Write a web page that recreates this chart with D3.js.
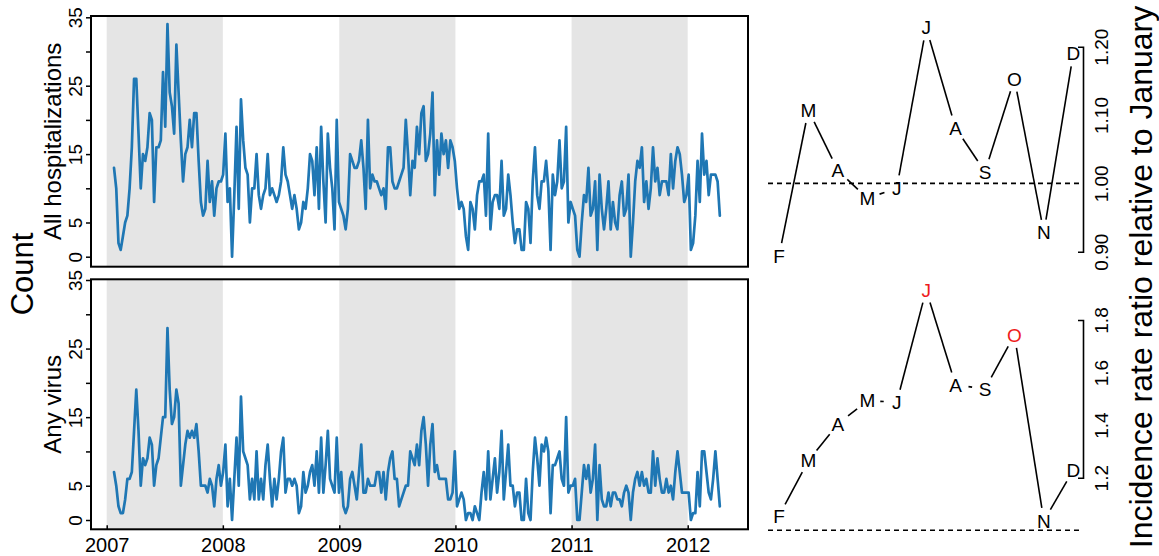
<!DOCTYPE html>
<html><head><meta charset="utf-8">
<script src="https://cdn.jsdelivr.net/npm/d3@7"></script>
<style>
html,body{margin:0;padding:0;background:#fff;}
svg{display:block;font-family:"Liberation Sans",Arial,Helvetica,sans-serif;}
</style></head>
<body><svg id="c" width="1159" height="556"></svg>
<script>
// ---------- DATA ----------
const startDate = "2007-01-24";           // first weekly observation
const yearTicks = [2007, 2008, 2009, 2010, 2011, 2012];
const shadedYears = [2007, 2009, 2011];   // grey bands (one year each)
const countTicks = [0, 5, 10, 15, 20, 25, 30, 35];
const countLabels = [0, 5, 15, 25, 35];

const allHosp = [
13,10,2,1,3,5,6,10,16,26,
26,18,10,15,14,16,21,20,8,16,
16,17,27,19,34,24,22,18,31,24,
17,11,15,16,20,16,21,21,14,8,
6,7,14,8,11,6,10,11,11,12,
18,8,10,0,9,19,7,23,17,13,
12,5,10,10,15,9,7,9,10,15,
9,10,9,8,9,11,16,12,11,9,
7,9,7,4,5,8,7,10,15,14,
9,16,7,19,11,5,18,13,10,4,
20,8,7,6,4,7,15,14,13,13,
14,17,13,7,20,10,12,11,11,10,
9,10,7,16,16,11,10,10,11,12,
13,20,15,9,14,13,19,15,21,22,
14,15,18,24,9,17,12,18,15,17,
13,17,16,14,10,7,8,7,3,1,
8,7,4,9,11,11,12,6,18,4,
8,9,9,7,14,6,7,12,9,5,
2,4,4,1,1,8,7,2,11,16,
9,7,11,11,14,10,1,12,9,11,
17,10,11,19,5,8,7,6,1,0,
5,9,8,13,6,7,11,1,12,7,
4,7,11,4,8,5,4,9,11,6,
7,12,0,5,11,14,13,16,8,11,
7,10,16,11,13,9,11,11,11,9,
15,10,14,16,15,12,8,9,12,1,
2,6,14,8,18,12,14,9,12,12,
12,11,6];

const anyVirus = [
7,5,2,1,1,3,6,6,7,13,
19,13,5,9,8,9,12,11,5,8,
9,12,15,15,28,19,14,15,19,17,
5,8,11,13,12,13,12,14,10,5,
5,5,4,6,5,2,6,8,5,7,
11,2,6,0,6,12,5,18,10,9,
8,3,6,3,10,3,6,3,8,11,
6,2,6,3,6,10,12,4,6,6,
5,6,5,1,2,7,4,5,7,8,
5,10,4,12,4,8,13,6,5,4,
12,4,7,2,1,2,6,7,5,3,
7,11,4,4,6,5,5,5,7,7,
4,7,3,7,9,10,6,6,2,3,
4,5,5,10,9,8,11,8,13,15,
11,5,11,14,7,8,6,6,6,6,
3,3,4,10,2,3,4,3,0,1,
1,0,2,1,0,4,7,3,10,3,
6,9,4,7,13,3,7,11,5,5,
2,4,4,0,0,6,1,0,7,12,
9,5,11,10,12,10,1,8,8,9,
10,6,5,15,4,5,5,6,0,0,
4,8,6,8,4,6,11,0,8,3,
2,2,4,2,4,4,3,3,2,4,
5,4,0,4,6,7,5,7,5,6,
4,4,10,5,9,6,4,4,6,4,
5,3,7,10,7,4,4,4,4,0,
1,1,7,2,10,10,7,4,3,6,
10,6,2];

const months = ["F","M","A","M","J","J","A","S","O","N","D"];
const irrAll   = [0.894,1.107,1.019,0.978,0.993,1.228,1.081,1.017,1.153,0.928,1.190];
const irrVirus = [1.055,1.265,1.404,1.493,1.487,1.914,1.553,1.538,1.743,1.036,1.229];
const virusHighlight = ["F","F","F","F","F","T","F","F","T","F","F"]; // significant months (red)
const irrAllTicks = [0.90, 1.00, 1.10, 1.20];
const irrVirusTicks = [1.2, 1.4, 1.6, 1.8];

// ---------- DRAW ----------
const svg = d3.select("#c");
const FONT = '"Liberation Sans",Arial,Helvetica,sans-serif';
const blue = "#1f77b4";

const parse = d3.timeParse("%Y-%m-%d");
const t0 = parse(startDate);
const dates = allHosp.map((_, i) => d3.timeDay.offset(t0, 7 * i));

const x = d3.scaleTime()
  .domain([new Date(2007, 0, 1), new Date(2012, 0, 1)])
  .range([106.7, 687.7]);
const frameX0 = 91, frameX1 = 748;

const panels = [
  {top: 16, bottom: 266.7, y: d3.scaleLinear().domain([0, 35]).range([256.7, 17.3]), data: allHosp, title: "All hospitalizations", xaxis: false},
  {top: 279.3, bottom: 529.3, y: d3.scaleLinear().domain([0, 35]).range([520, 280]), data: anyVirus, title: "Any virus", xaxis: true}
];

panels.forEach(p => {
  const g = svg.append("g");
  g.selectAll("rect.band").data(shadedYears).join("rect")
    .attr("x", d => x(new Date(d, 0, 1)))
    .attr("width", d => x(new Date(d + 1, 0, 1)) - x(new Date(d, 0, 1)))
    .attr("y", p.top).attr("height", p.bottom - p.top)
    .attr("fill", "#e5e5e5");
  const line = d3.line().x((d, i) => x(dates[i])).y(d => p.y(d));
  g.append("path").datum(p.data)
    .attr("d", line).attr("fill", "none")
    .attr("stroke", blue).attr("stroke-width", 2.7)
    .attr("stroke-linejoin", "round").attr("stroke-linecap", "round");
  g.append("rect").attr("x", frameX0).attr("y", p.top)
    .attr("width", frameX1 - frameX0).attr("height", p.bottom - p.top)
    .attr("fill", "none").attr("stroke", "#000").attr("stroke-width", 2);
  const ya = g.append("g").attr("transform", `translate(${frameX0},0)`)
    .call(d3.axisLeft(p.y).tickValues(countTicks).tickSizeInner(5).tickSizeOuter(0)
      .tickFormat(d => countLabels.includes(d) ? d : ""));
  ya.select(".domain").remove();
  ya.selectAll(".tick line").attr("stroke", "#000").attr("stroke-width", 1.5);
  ya.selectAll(".tick text")
    .attr("x", null).attr("dy", null).attr("y", null)
    .attr("text-anchor", "middle")
    .attr("transform", "translate(-8.7,0) rotate(-90)")
    .attr("font-size", 19).attr("font-family", FONT).attr("fill", "#000");
  g.append("text")
    .attr("transform", `translate(61,${(p.top + p.bottom) / 2}) rotate(-90)`)
    .attr("text-anchor", "middle").attr("font-size", 24).attr("font-family", FONT)
    .text(p.title);
  if (p.xaxis) {
    const xa = g.append("g").attr("transform", `translate(0,${p.bottom})`)
      .call(d3.axisBottom(x).tickValues(yearTicks.map(yv => new Date(yv, 0, 1)))
        .tickSizeInner(-4).tickSizeOuter(0).tickPadding(8.8)
        .tickFormat(d3.timeFormat("%Y")));
    xa.select(".domain").remove();
    xa.selectAll(".tick line").attr("stroke", "#000").attr("stroke-width", 1.5);
    xa.selectAll(".tick text").attr("font-size", 20).attr("font-family", FONT).attr("fill", "#000");
  }
});

svg.append("text")
  .attr("transform", "translate(33,274) rotate(-90)")
  .attr("text-anchor", "middle").attr("font-size", 31).attr("font-family", FONT)
  .text("Count");

// ---------- right panels ----------
const mx = d3.scalePoint().domain(d3.range(months.length)).range([779, 1073.3]);
const rightPanels = [
  {y: d3.scaleLinear().domain([0.9, 1.2]).range([251.7, 46.7]), vals: irrAll, ticks: irrAllTicks, fmt: d3.format(".2f"), red: null},
  {y: d3.scaleLinear().domain([1.2, 1.8]).range([477.7, 320]), vals: irrVirus, ticks: irrVirusTicks, fmt: d3.format(".1f"), red: virusHighlight}
];
const gap = 13;
rightPanels.forEach(rp => {
  const g = svg.append("g");
  g.append("line").attr("x1", 768).attr("x2", 1081)
    .attr("y1", rp.y(1)).attr("y2", rp.y(1))
    .attr("stroke", "#000").attr("stroke-width", 1.6).attr("stroke-dasharray", "5,4");
  const pts = rp.vals.map((v, i) => [mx(i), rp.y(v)]);
  const segs = [];
  for (let i = 0; i < pts.length - 1; i++) {
    const [x1, y1] = pts[i], [x2, y2] = pts[i + 1];
    const dx = x2 - x1, dy = y2 - y1, L = Math.hypot(dx, dy);
    if (L > 2 * gap) {
      const ux = dx / L, uy = dy / L;
      segs.push([x1 + ux * gap, y1 + uy * gap, x2 - ux * gap, y2 - uy * gap]);
    }
  }
  g.selectAll("line.seg").data(segs).join("line")
    .attr("x1", d => d[0]).attr("y1", d => d[1]).attr("x2", d => d[2]).attr("y2", d => d[3])
    .attr("stroke", "#000").attr("stroke-width", 1.6);
  g.selectAll("text.m").data(rp.vals).join("text")
    .attr("x", (d, i) => mx(i)).attr("y", d => rp.y(d) + 6.8)
    .attr("text-anchor", "middle").attr("font-size", 19).attr("font-family", FONT)
    .attr("fill", (d, i) => rp.red && rp.red[i] === "T" ? "#ee1c1c" : "#000")
    .text((d, i) => months[i]);
  const ax = g.append("g").attr("transform", "translate(1083,0)")
    .call(d3.axisRight(rp.y).tickValues(rp.ticks).tickSizeInner(0).tickSizeOuter(-5).tickFormat(rp.fmt));
  ax.select(".domain").attr("stroke", "#000").attr("stroke-width", 1.6);
  ax.selectAll(".tick line").remove();
  ax.selectAll(".tick text")
    .attr("x", null).attr("dy", null).attr("y", null)
    .attr("text-anchor", "middle")
    .attr("transform", "translate(25,0) rotate(-90)")
    .attr("font-size", 19).attr("font-family", FONT).attr("fill", "#000");
});

svg.append("text")
  .attr("transform", "translate(1152,277) rotate(-90)")
  .attr("text-anchor", "middle").attr("font-size", 32).attr("font-family", FONT)
  .text("Incidence rate ratio relative to January");
</script></body></html>
